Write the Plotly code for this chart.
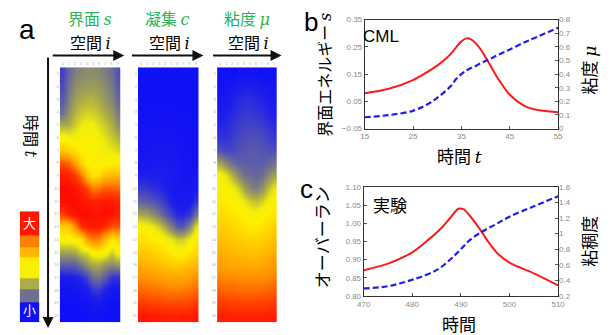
import plotly.graph_objects as go

# ---------------- data ----------------
cols = list(range(10))
rows = list(range(20))

s_field = [
    [0.15,0.24,0.28,0.30,0.31,0.31,0.30,0.28,0.25,0.18],
    [0.17,0.26,0.31,0.33,0.34,0.34,0.33,0.31,0.27,0.20],
    [0.20,0.29,0.34,0.37,0.38,0.38,0.36,0.33,0.30,0.23],
    [0.25,0.32,0.38,0.41,0.43,0.42,0.40,0.37,0.33,0.27],
    [0.36,0.37,0.42,0.46,0.48,0.47,0.44,0.41,0.37,0.31],
    [0.50,0.48,0.48,0.50,0.51,0.50,0.48,0.45,0.41,0.38],
    [0.62,0.60,0.55,0.52,0.51,0.50,0.49,0.48,0.46,0.44],
    [0.86,0.82,0.72,0.60,0.52,0.51,0.50,0.50,0.52,0.53],
    [0.96,0.95,0.90,0.80,0.64,0.55,0.57,0.64,0.66,0.66],
    [1.00,1.00,0.98,0.95,0.88,0.78,0.80,0.84,0.83,0.82],
    [1.00,1.00,1.00,0.98,0.97,0.95,0.96,0.97,0.96,0.95],
    [0.88,0.95,0.98,1.00,1.00,0.98,0.98,1.00,0.98,0.95],
    [0.60,0.62,0.75,0.92,0.95,0.97,0.97,0.93,0.85,0.85],
    [0.50,0.50,0.52,0.55,0.72,0.78,0.76,0.65,0.55,0.58],
    [0.35,0.35,0.36,0.42,0.44,0.50,0.52,0.50,0.42,0.50],
    [0.20,0.20,0.21,0.25,0.32,0.36,0.36,0.32,0.30,0.32],
    [0.07,0.07,0.08,0.10,0.15,0.25,0.26,0.20,0.12,0.12],
    [0.03,0.03,0.04,0.05,0.07,0.12,0.13,0.08,0.05,0.04],
    [0.02,0.02,0.02,0.03,0.03,0.05,0.06,0.04,0.02,0.02],
    [0.01,0.01,0.01,0.01,0.02,0.02,0.02,0.02,0.01,0.01],
]

c_field = [
    [0.02,0.02,0.02,0.02,0.02,0.02,0.02,0.02,0.02,0.02],
    [0.02,0.02,0.02,0.02,0.02,0.02,0.02,0.02,0.02,0.02],
    [0.02,0.02,0.02,0.02,0.02,0.02,0.02,0.02,0.02,0.02],
    [0.02,0.02,0.03,0.03,0.03,0.03,0.02,0.02,0.02,0.02],
    [0.03,0.03,0.03,0.03,0.03,0.03,0.03,0.03,0.03,0.03],
    [0.03,0.03,0.04,0.04,0.04,0.04,0.03,0.03,0.03,0.03],
    [0.04,0.04,0.05,0.05,0.05,0.05,0.04,0.03,0.03,0.03],
    [0.05,0.05,0.06,0.06,0.06,0.05,0.05,0.04,0.03,0.04],
    [0.08,0.08,0.08,0.08,0.07,0.06,0.05,0.04,0.04,0.05],
    [0.14,0.13,0.11,0.10,0.08,0.06,0.05,0.05,0.05,0.07],
    [0.22,0.21,0.19,0.16,0.13,0.08,0.06,0.06,0.07,0.12],
    [0.36,0.35,0.31,0.27,0.20,0.15,0.10,0.09,0.13,0.26],
    [0.50,0.49,0.46,0.42,0.36,0.28,0.20,0.20,0.30,0.45],
    [0.56,0.55,0.53,0.52,0.49,0.46,0.42,0.42,0.48,0.54],
    [0.62,0.61,0.60,0.58,0.56,0.53,0.51,0.51,0.55,0.59],
    [0.68,0.67,0.66,0.65,0.63,0.62,0.61,0.62,0.64,0.67],
    [0.75,0.74,0.73,0.72,0.71,0.70,0.70,0.70,0.72,0.75],
    [0.82,0.81,0.80,0.80,0.79,0.78,0.78,0.79,0.80,0.82],
    [0.90,0.89,0.88,0.88,0.87,0.87,0.87,0.87,0.88,0.90],
    [0.97,0.97,0.96,0.96,0.96,0.95,0.95,0.96,0.96,0.97],
]

mu_field = [
    [0.02,0.02,0.02,0.03,0.03,0.03,0.03,0.02,0.02,0.02],
    [0.03,0.04,0.05,0.07,0.08,0.08,0.07,0.06,0.05,0.04],
    [0.05,0.06,0.08,0.10,0.11,0.11,0.10,0.09,0.07,0.05],
    [0.07,0.08,0.10,0.12,0.13,0.13,0.12,0.11,0.09,0.08],
    [0.09,0.10,0.12,0.14,0.15,0.15,0.15,0.14,0.12,0.10],
    [0.12,0.12,0.14,0.16,0.17,0.18,0.18,0.17,0.15,0.13],
    [0.18,0.16,0.16,0.18,0.19,0.20,0.20,0.19,0.18,0.17],
    [0.36,0.30,0.25,0.22,0.21,0.21,0.21,0.21,0.23,0.26],
    [0.49,0.45,0.38,0.31,0.26,0.24,0.23,0.25,0.30,0.35],
    [0.52,0.50,0.48,0.43,0.35,0.30,0.28,0.32,0.40,0.46],
    [0.54,0.53,0.52,0.50,0.46,0.42,0.40,0.43,0.48,0.51],
    [0.57,0.56,0.55,0.54,0.52,0.50,0.50,0.51,0.53,0.55],
    [0.60,0.60,0.58,0.57,0.55,0.53,0.53,0.55,0.57,0.60],
    [0.64,0.63,0.62,0.61,0.60,0.59,0.59,0.60,0.62,0.64],
    [0.68,0.67,0.66,0.65,0.64,0.64,0.64,0.65,0.66,0.68],
    [0.72,0.71,0.70,0.70,0.69,0.69,0.69,0.70,0.71,0.73],
    [0.77,0.76,0.76,0.75,0.75,0.75,0.75,0.75,0.76,0.78],
    [0.83,0.82,0.82,0.81,0.81,0.81,0.81,0.82,0.82,0.84],
    [0.89,0.89,0.88,0.88,0.88,0.88,0.88,0.88,0.89,0.90],
    [0.96,0.96,0.95,0.95,0.95,0.95,0.95,0.95,0.96,0.96],
]

# discrete colour key (bottom = 小, top = 大)
key_levels = [[0.02], [0.25], [0.37], [0.50], [0.66], [0.78], [0.97]]
key_edges = [0, 20, 34, 45, 67, 77, 89, 114]

# panel b (CML)
t_b = [15, 20, 25, 28, 30, 32, 33, 34, 35, 36, 37, 38, 39, 40, 41, 42, 43, 45, 48, 50, 55]
s_b = [0.080, 0.096, 0.128, 0.158, 0.181, 0.210, 0.228, 0.250, 0.270, 0.281, 0.277,
       0.262, 0.240, 0.212, 0.181, 0.150, 0.122, 0.074, 0.033, 0.021, 0.010]
mu_b = [0.083, 0.099, 0.130, 0.178, 0.225, 0.284, 0.320, 0.367, 0.400, 0.426, 0.445,
        0.460, 0.480, 0.497, 0.513, 0.530, 0.547, 0.580, 0.632, 0.663, 0.740]

# panel c (experiment)
t_c = [470, 475, 480, 483, 486, 488, 489.5, 490.5, 492, 494, 496, 498, 500, 505, 510]
over_c = [0.871, 0.889, 0.920, 0.951, 0.987, 1.018, 1.040, 1.039, 1.018, 0.982,
          0.942, 0.911, 0.892, 0.862, 0.829]
t_cv = [470, 475, 480, 485, 488, 490, 492, 494.5, 497, 500, 505, 510]
visc_c = [0.296, 0.325, 0.408, 0.532, 0.678, 0.802, 0.927, 1.031, 1.114, 1.218, 1.351, 1.480]

b_left_ticks = [-0.05, 0.05, 0.15, 0.25, 0.35]
b_right_ticks = [0, 0.1, 0.2, 0.3, 0.4, 0.5, 0.6, 0.7, 0.8]
b_right_text = ["0", "0.1", "0.2", "0.3", "0.4", "0.5", "0.6", "0.7", "0.8"]
b_x_ticks = [15, 25, 35, 45, 55]
c_left_ticks = [0.80, 0.85, 0.90, 0.95, 1.00, 1.05, 1.10]
c_right_ticks = [0.2, 0.4, 0.6, 0.8, 1.0, 1.2, 1.4, 1.6]
c_right_text = ["0.2", "0.4", "0.6", "0.8", "1", "1.2", "1.4", "1.6"]
c_x_ticks = [470, 480, 490, 500, 510]

# ---------------- layout helpers ----------------
W, H = 613, 335
def fx(p):
    return p / W
def fy(p):
    return 1 - p / H

colorscale = [
    [0.00, "rgb(12,12,250)"],
    [0.08, "rgb(30,30,235)"],
    [0.18, "rgb(80,80,185)"],
    [0.27, "rgb(120,120,135)"],
    [0.37, "rgb(172,172,72)"],
    [0.47, "rgb(240,238,12)"],
    [0.52, "rgb(255,240,0)"],
    [0.62, "rgb(255,200,0)"],
    [0.75, "rgb(255,145,0)"],
    [0.88, "rgb(255,65,0)"],
    [1.00, "rgb(255,10,0)"],
]

JP = "Noto Sans CJK JP"
TICKF = dict(family="Liberation Sans", size=8, color="#8a8a8a")
RED = "rgb(255,25,25)"
BLUE = "rgb(30,30,235)"
GREEN = "rgb(40,180,80)"

fig = go.Figure()

# heatmaps
for i, field in enumerate([s_field, c_field, mu_field]):
    fig.add_trace(go.Heatmap(
        z=field, x=cols, y=rows, colorscale=colorscale, zmin=0, zmax=1,
        zsmooth="best", showscale=False, hoverinfo="skip",
        xaxis="x" if i == 0 else f"x{i+1}", yaxis="y" if i == 0 else f"y{i+1}"))

# colour key
fig.add_trace(go.Heatmap(
    z=key_levels, x=[0, 1], y=key_edges, colorscale=colorscale, zmin=0, zmax=1,
    showscale=False, hoverinfo="skip", xaxis="x4", yaxis="y4"))

# panel b
fig.add_trace(go.Scatter(x=t_b, y=s_b, mode="lines", line=dict(color=RED, width=2, shape="spline"),
                         xaxis="x5", yaxis="y5", showlegend=False))
fig.add_trace(go.Scatter(x=t_b, y=mu_b, mode="lines",
                         line=dict(color=BLUE, width=2.2, dash="6px,3px", shape="spline"),
                         xaxis="x5", yaxis="y6", showlegend=False))
# panel c
fig.add_trace(go.Scatter(x=t_c, y=over_c, mode="lines", line=dict(color=RED, width=2, shape="spline"),
                         xaxis="x6", yaxis="y7", showlegend=False))
fig.add_trace(go.Scatter(x=t_cv, y=visc_c, mode="lines",
                         line=dict(color=BLUE, width=2.2, dash="6px,3px", shape="spline"),
                         xaxis="x6", yaxis="y8", showlegend=False))

tiny = dict(family="Liberation Sans", size=4, color="#b0b0b0")
hm_x = [(54, 116), (134, 196), (215, 276)]
layout = dict(
    width=W, height=H, margin=dict(l=0, r=0, t=0, b=0),
    paper_bgcolor="white", plot_bgcolor="white", showlegend=False,
)
for i, (x0, x1) in enumerate(hm_x):
    xs = "xaxis" if i == 0 else f"xaxis{i+1}"
    ys = "yaxis" if i == 0 else f"yaxis{i+1}"
    layout[xs] = dict(domain=[fx(x0), fx(x1)], anchor="y" if i == 0 else f"y{i+1}",
                      side="top", tickvals=cols, ticktext=[str(c) for c in cols],
                      tickfont=tiny, ticks="", showgrid=False, zeroline=False,
                      showline=False, range=[-0.5, 9.5])
    layout[ys] = dict(domain=[fy(327), fy(65)], anchor="x" if i == 0 else f"x{i+1}",
                      tickvals=rows, ticktext=[str(r + 1) for r in rows], tickfont=tiny,
                      ticks="", showgrid=False, zeroline=False, showline=False,
                      range=[19.5, -0.5])
layout["xaxis4"] = dict(domain=[fx(13), fx(33)], anchor="y4", visible=False, range=[0, 1])
layout["yaxis4"] = dict(domain=[fy(327), fy(213)], anchor="x4", visible=False, range=[0, 114])

axis_common = dict(showgrid=False, zeroline=False, showline=True, linecolor="#333",
                   linewidth=1, ticks="inside", ticklen=3, tickcolor="#555", tickfont=TICKF)
layout["xaxis5"] = dict(axis_common, domain=[fx(366), fx(564)], anchor="y5", range=[15, 55],
                        tickvals=b_x_ticks, mirror=True)
layout["yaxis5"] = dict(axis_common, domain=[fy(128), fy(16)], anchor="x5", range=[-0.05, 0.35],
                        tickvals=b_left_ticks, tickformat=".2f", mirror=True)
layout["yaxis6"] = dict(axis_common, overlaying="y5", side="right", anchor="x5", range=[0, 0.8],
                        tickvals=b_right_ticks, ticktext=b_right_text, showline=False)
layout["xaxis6"] = dict(axis_common, domain=[fx(365), fx(564)], anchor="y7", range=[470, 510],
                        tickvals=c_x_ticks, mirror=True)
layout["yaxis7"] = dict(axis_common, domain=[fy(300), fy(188)], anchor="x6", range=[0.80, 1.10],
                        tickvals=c_left_ticks, tickformat=".2f", mirror=True)
layout["yaxis8"] = dict(axis_common, overlaying="y7", side="right", anchor="x6", range=[0.2, 1.6],
                        tickvals=c_right_ticks, ticktext=c_right_text, showline=False)

ann = []
def text(x, y, t, size, color="black", family=JP, angle=0, xanchor="center"):
    ann.append(dict(x=fx(x), y=fy(y), xref="paper", yref="paper", text=t, showarrow=False,
                    font=dict(family=family, size=size, color=color), textangle=angle,
                    xanchor=xanchor, yanchor="middle"))

def arrow(x_head, y_head, dx, dy):
    ann.append(dict(x=fx(x_head), y=fy(y_head), xref="paper", yref="paper", text="",
                    showarrow=True, ax=-dx, ay=-dy, axref="pixel", ayref="pixel",
                    arrowhead=2, arrowsize=1.1, arrowwidth=2, arrowcolor="#111"))

serif = "DejaVu Serif"
def it(ch):
    return f"<span style='font-family:{serif}'><i>{ch}</i></span>"

text(20, 26, "a", 28, family="Liberation Sans")
text(85, 14, "界面 " + it("s"), 16, color=GREEN)
text(164, 14, "凝集 " + it("c"), 16, color=GREEN)
text(246, 14, "粘度 " + it("μ"), 16, color=GREEN)
for cx in (85, 166, 247):
    text(cx, 39, "空間 " + it("i"), 16)
arrow(120, 53, 73, 0)
arrow(201, 53, 73, 0)
arrow(281, 53, 70, 0)
arrow(42, 333, 0, 272)
text(25, 136, "時間 " + it("t"), 16, angle=90)
text(23, 225, "大", 13, color="white")
text(23, 314, "小", 13, color="white")

text(311, 19, "b", 26, family="Liberation Sans")
text(383, 33, "CML", 17, family="Liberation Sans")
text(463, 156, "時間 " + it("t"), 17)
text(324, 73, "界面エネルギー " + it("s"), 16, angle=-90)
text(595, 68, "粘度 " + it("μ"), 17, angle=-90)

text(306, 190, "c", 26, family="Liberation Sans")
text(392, 206, "実験", 17)
text(463, 328, "時間", 17)
text(322, 240, "オーバーラン", 17, angle=-90)
text(595, 244, "粘稠度", 17, angle=-90)

layout["annotations"] = ann
fig.update_layout(**layout)
fig.write_html("out.html")
